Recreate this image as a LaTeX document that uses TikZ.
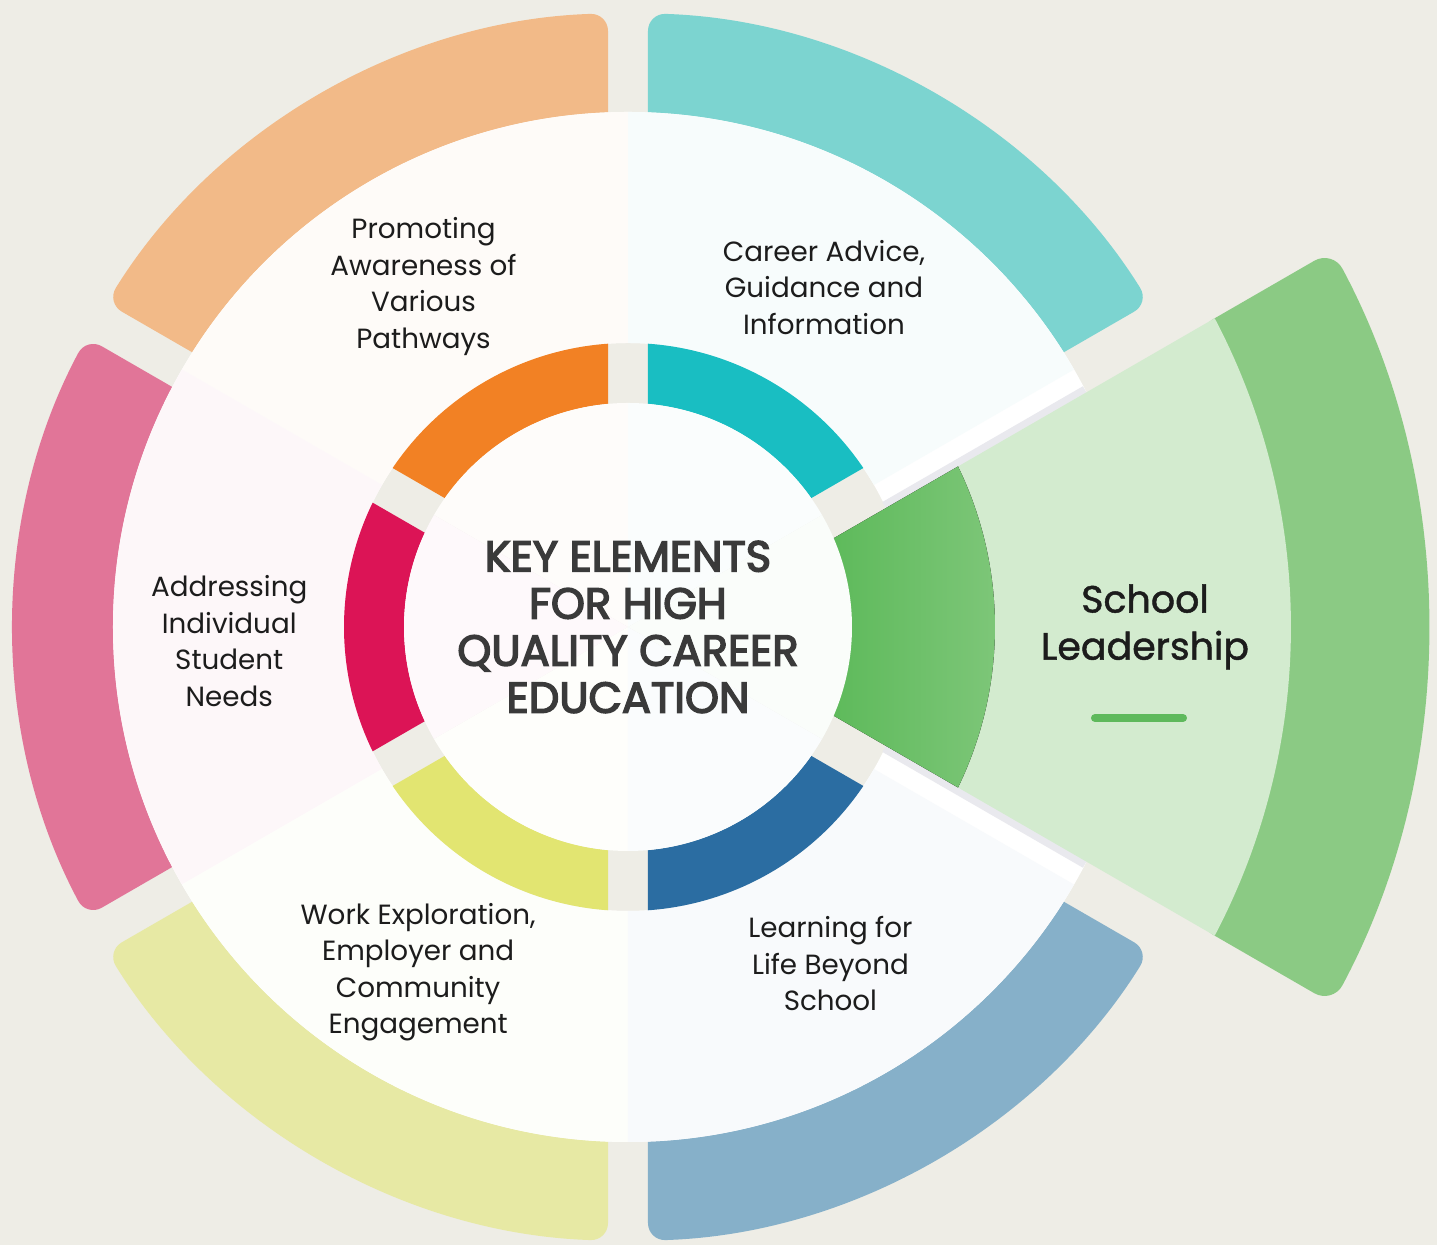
\documentclass[tikz,border=0pt]{standalone}
\usepackage{fontspec}
\setmainfont{Poppins}
\newfontfamily\titlefont{Poppins}[FakeBold=3.5]
\newfontfamily\leadfont{Poppins}[FakeBold=1.2]
\usepackage{tikz}

\definecolor{paper}{HTML}{EEEDE6}
\definecolor{ink}{HTML}{1C1C1C}
\definecolor{titleink}{HTML}{3A3A3A}
\definecolor{peach}{HTML}{F2BA88}
\definecolor{orangering}{HTML}{F28124}
\definecolor{aqua}{HTML}{7CD4D0}
\definecolor{tealring}{HTML}{19BEC2}
\definecolor{rose}{HTML}{E17598}
\definecolor{crimson}{HTML}{DC1456}
\definecolor{lime}{HTML}{E7E9A4}
\definecolor{limering}{HTML}{E2E571}
\definecolor{steel}{HTML}{86B0C9}
\definecolor{navy}{HTML}{2B6DA2}
\definecolor{leafout}{HTML}{8BCA84}
\definecolor{leaflight}{HTML}{D3EBCF}
\definecolor{leafdeep}{HTML}{5EBA5B}
\definecolor{leafdark}{HTML}{7FC77A}
\definecolor{leafbar}{HTML}{5EB95C}
\definecolor{edgeshade}{HTML}{E9E9EE}

\begin{document}
\begin{tikzpicture}[
        elem/.style={align=center, text=ink, font=\fontsize{7.9}{10.4}\selectfont},
        title/.style={align=center, text=titleink, font=\titlefont\fontsize{12.3}{13.4}\selectfont},
        lead/.style={align=center, text=ink, font=\leadfont\fontsize{10.8}{13.4}\selectfont}]

    \useasboundingbox (-6.28,-6.18) rectangle (8.09,6.27);
    \fill[paper] (-6.28,-6.18) rectangle (8.09,6.27);

    % outer colour bands
    \foreach \a/\b/\c in {30/90/aqua, 90/150/peach, 150/210/rose, 210/270/lime, 270/330/steel}
        \fill[\c, rounded corners=5pt] ({\a+asin(0.2/6.14)}:6.14)
            arc[start angle={\a+asin(0.2/6.14)}, end angle={\b-asin(0.2/6.14)}, radius=6.14]
            -- ({\b-asin(0.2/4.8)}:4.8)
            arc[start angle={\b-asin(0.2/4.8)}, end angle={\a+asin(0.2/4.8)}, radius=4.8] -- cycle;

    % white band with a faint tint per element
    \fill[white, even odd rule] (0,0) circle[radius=5.15] circle[radius=2.84];
    \foreach \a/\b/\c in {30/90/aqua, 90/150/peach, 150/210/rose, 210/270/lime, 270/330/steel}
        \fill[\c!6!white] (\a:5.15) arc[start angle=\a, end angle=\b, radius=5.15]
            -- (\b:2.84) arc[start angle=\b, end angle=\a, radius=2.84] -- cycle;

    % inner ring
    \foreach \a/\b/\c in {30/90/tealring, 90/150/orangering, 150/210/crimson, 210/270/limering, 270/330/navy}
        \fill[\c] ({\a+asin(0.2/2.84)}:2.84)
            arc[start angle={\a+asin(0.2/2.84)}, end angle={\b-asin(0.2/2.84)}, radius=2.84]
            -- ({\b-asin(0.2/2.24)}:2.24)
            arc[start angle={\b-asin(0.2/2.24)}, end angle={\a+asin(0.2/2.24)}, radius=2.24] -- cycle;

    % shade where the leadership wedge sits on the white band
    \draw[edgeshade, line width=4pt] ({30-asin(0.26/2.84)}:2.84) -- ({30-asin(0.26/5.15)}:5.15);
    \draw[edgeshade, line width=4pt] ({-30+asin(0.26/2.84)}:2.84) -- ({-30+asin(0.26/5.15)}:5.15);

    % school leadership wedge, pulled out
    \fill[leafout, rounded corners=6pt] ({-30+asin(0.26/7.99)}:7.99)
        arc[start angle={-30+asin(0.26/7.99)}, end angle={30-asin(0.26/7.99)}, radius=7.99]
        -- ({30-asin(0.26/6.4)}:6.4)
        arc[start angle={30-asin(0.26/6.4)}, end angle={-30+asin(0.26/6.4)}, radius=6.4] -- cycle;
    \fill[leaflight] ({-30+asin(0.26/6.63)}:6.63)
        arc[start angle={-30+asin(0.26/6.63)}, end angle={30-asin(0.26/6.63)}, radius=6.63]
        -- ({30-asin(0.26/3.6)}:3.6)
        arc[start angle={30-asin(0.26/3.6)}, end angle={-30+asin(0.26/3.6)}, radius=3.6] -- cycle;
    \fill[left color=leafdeep, right color=leafdark] ({-30+asin(0.26/3.67)}:3.67)
        arc[start angle={-30+asin(0.26/3.67)}, end angle={30-asin(0.26/3.67)}, radius=3.67]
        -- ({30-asin(0.26/2.23)}:2.23)
        arc[start angle={30-asin(0.26/2.23)}, end angle={-30+asin(0.26/2.23)}, radius=2.23] -- cycle;

    % centre disc
    \foreach \a/\b/\c in {-30/30/leafout, 30/90/aqua, 90/150/peach, 150/210/rose, 210/270/lime, 270/330/steel}
        \fill[\c!4!white] (0,0) -- (\a:2.24) arc[start angle=\a, end angle=\b, radius=2.24] -- cycle;

    \node[title] (key) at (0,0) {KEY ELEMENTS\\FOR HIGH\\QUALITY CAREER\\EDUCATION};

    \node[elem] (paths) at (121:3.97) {Promoting\\Awareness of\\Various\\Pathways};
    \node[elem] (advice) at (60:3.92) {Career Advice,\\Guidance and\\Information};
    \node[elem] (needs) at (182:3.99) {Addressing\\Individual\\Student\\Needs};
    \node[elem] (work) at (238.7:4.04) {Work Exploration,\\Employer and\\Community\\Engagement};
    \node[elem] (life) at (301:3.93) {Learning for\\Life Beyond\\School};

    \node[lead] (lead) at (5.17,0) {School\\Leadership};
    \coordinate (barL) at (4.67,-0.91);
    \coordinate (barR) at (5.55,-0.91);
    \draw[leafbar, line width=2.3pt, line cap=round] (barL) -- (barR);

\end{tikzpicture}
\end{document}
